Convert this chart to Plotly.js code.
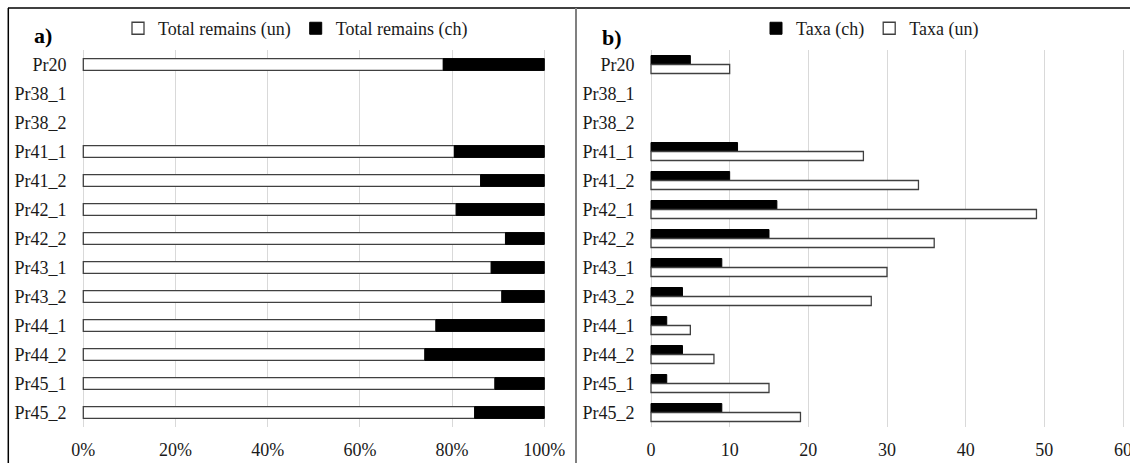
<!DOCTYPE html>
<html><head><meta charset="utf-8">
<script src="https://cdn.plot.ly/plotly-3.0.1.min.js"></script>
<style>html,body{margin:0;padding:0;background:#fff}#chart{width:1130px;height:463px}</style>
</head><body><div id="chart"></div>
<script>
const categories = ['Pr20','Pr38_1','Pr38_2','Pr41_1','Pr41_2','Pr42_1','Pr42_2','Pr43_1','Pr43_2','Pr44_1','Pr44_2','Pr45_1','Pr45_2'];
const remainsUn = [78.1, null, null, 80.5, 86.2, 80.9, 91.6, 88.5, 90.8, 76.5, 74.1, 89.3, 84.9];
const remainsCh = [21.9, null, null, 19.5, 13.8, 19.1, 8.4, 11.5, 9.2, 23.5, 25.9, 10.7, 15.1];
const taxaCh = [5, null, null, 11, 10, 16, 15, 9, 4, 2, 4, 2, 9];
const taxaUn = [10, null, null, 27, 34, 49, 36, 30, 28, 5, 8, 15, 19];
const pctTicks = [0, 20, 40, 60, 80, 100];
const pctLabels = ['0%', '20%', '40%', '60%', '80%', '100%'];
const taxaTicks = [0, 10, 20, 30, 40, 50, 60];

const W = 1130, H = 463, T = 49.5, B = 35.5;
const ph = H - T - B;
const px = v => v / W;
const py = v => (H - B - v) / ph;

const FONT = '"Liberation Serif", "Times New Roman", Times, serif';
const TXT = '#1a1a1a';

const traces = [
  {type:'bar', orientation:'h', name:'Total remains (un)', x:remainsUn, y:categories,
   xaxis:'x', yaxis:'y', legend:'legend', offsetgroup:'a', width:0.41,
   marker:{color:'#ffffff', line:{color:'#404040', width:1.3}}, hoverinfo:'x+y'},
  {type:'bar', orientation:'h', name:'Total remains (ch)', x:remainsCh, y:categories, base:remainsUn,
   xaxis:'x', yaxis:'y', legend:'legend', offsetgroup:'a', width:0.41,
   marker:{color:'#000000', line:{color:'#000000', width:1}}, hoverinfo:'x+y'},
  {type:'bar', orientation:'h', name:'Taxa (ch)', x:taxaCh, y:categories,
   xaxis:'x2', yaxis:'y2', legend:'legend2',
   marker:{color:'#000000', line:{color:'#000000', width:1}}},
  {type:'bar', orientation:'h', name:'Taxa (un)', x:taxaUn, y:categories,
   xaxis:'x2', yaxis:'y2', legend:'legend2',
   marker:{color:'#ffffff', line:{color:'#404040', width:1.3}}}
];

const axFont = {family:FONT, size:18, color:TXT};
const xCommon = {showline:false, zeroline:false, ticks:'', showgrid:true, gridcolor:'#d9d9d9', gridwidth:1,
  tickfont:axFont, ticklabelstandoff:10, ticklabeloverflow:'allow', fixedrange:true};
const yCommon = {type:'category', categoryarray:categories, autorange:'reversed', showline:false, zeroline:false,
  showgrid:false, ticks:'', tickfont:axFont, ticklabelstandoff:14, fixedrange:true};

const layout = {
  width:W, height:H,
  margin:{l:0, r:0, t:T, b:B},
  paper_bgcolor:'#ffffff', plot_bgcolor:'#ffffff',
  barmode:'group', bargap:0.38, bargroupgap:0,
  font:{family:FONT, size:18, color:TXT},
  xaxis:Object.assign({}, xCommon, {domain:[px(81.46), px(546.14)], range:[-0.4,100.4], tickmode:'array', tickvals:pctTicks, ticktext:pctLabels, anchor:'y'}),
  yaxis:Object.assign({}, yCommon, {anchor:'x'}),
  xaxis2:Object.assign({}, xCommon, {domain:[px(649.43), px(1124.57)], range:[-0.2,60.2], tickmode:'array', tickvals:taxaTicks, anchor:'y2'}),
  yaxis2:Object.assign({}, yCommon, {anchor:'x2'}),
  showlegend:true,
  legend:{orientation:'h', x:px(118), xanchor:'left', y:py(28), yanchor:'middle', bgcolor:'rgba(0,0,0,0)',
    font:{family:FONT, size:18, color:TXT}, traceorder:'normal'},
  legend2:{orientation:'h', x:px(756), xanchor:'left', y:py(28), yanchor:'middle', bgcolor:'rgba(0,0,0,0)',
    font:{family:FONT, size:18, color:TXT}, traceorder:'normal'},
  annotations:[
    {text:'<b>a)</b>', xref:'paper', yref:'paper', x:px(43), y:py(35), showarrow:false,
     font:{family:FONT, size:22, color:'#000'}, xanchor:'center', yanchor:'middle'},
    {text:'<b>b)</b>', xref:'paper', yref:'paper', x:px(612), y:py(37), showarrow:false,
     font:{family:FONT, size:22, color:'#000'}, xanchor:'center', yanchor:'middle'}
  ],
  shapes:[
    {type:'line', xref:'paper', yref:'paper', x0:px(8), x1:1.01, y0:py(7.5), y1:py(7.5), line:{color:'#000', width:1.5}},
    {type:'line', xref:'paper', yref:'paper', x0:px(8.3), x1:px(8.3), y0:py(7.5), y1:py(480), line:{color:'#000', width:1.5}},
    {type:'line', xref:'paper', yref:'paper', x0:px(576), x1:px(576), y0:py(7.5), y1:py(480), line:{color:'#808080', width:2}}
  ]
};

Plotly.newPlot('chart', traces, layout, {displayModeBar:false});
</script>
</body></html>
